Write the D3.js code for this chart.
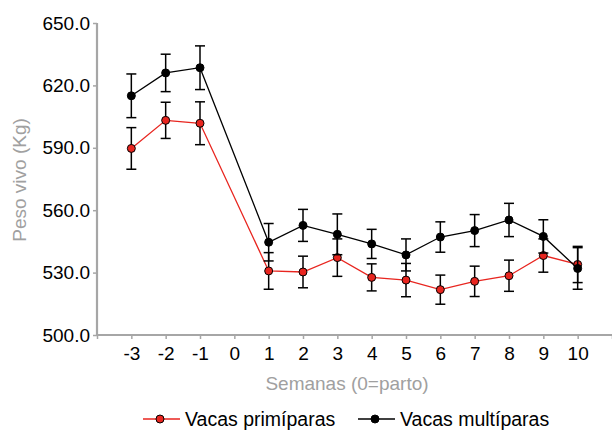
<!DOCTYPE html>
<html>
<head>
<meta charset="utf-8">
<script src="https://cdn.jsdelivr.net/npm/d3@7"></script>
<style>
  body { margin: 0; background: #fff; }
  svg { display: block; }
  .tick text { font-family: "Liberation Sans", Arial, sans-serif; }
</style>
</head>
<body>
<div id="chart"></div>
<script>
// weeks relative to calving (0 = parto, no measurement)
const weeks = [-3, -2, -1, 1, 2, 3, 4, 5, 6, 7, 8, 9, 10];
const primiparas = [589.7, 603.2, 601.8, 530.8, 530.3, 537.2, 527.7, 526.4, 521.8, 525.8, 528.5, 538.2, 533.9];
const primiparasErr = [10, 8.7, 10.3, 8.8, 7.6, 9, 6.5, 8, 7, 7.3, 7.5, 8, 8.7];
const multiparas = [615, 626, 628.5, 544.6, 552.7, 548.4, 543.8, 538.5, 547.1, 550.2, 555.3, 547.4, 532];
const multiparasErr = [10.5, 9, 10.5, 9, 7.7, 9.8, 7, 7.7, 7.3, 7.7, 8, 8, 10];
const xTicks = [-4, -3, -2, -1, 0, 1, 2, 3, 4, 5, 6, 7, 8, 9, 10, 11];
const yTicks = [500, 530, 560, 590, 620, 650];

const width = 612;
const height = 431;
const axisColor = '#a6a6a6';
const font = '"Liberation Sans", Arial, sans-serif';

const svg = d3.select('#chart')
  .append('svg')
  .attr('width', width)
  .attr('height', height);

const xScale = d3.scaleLinear().domain([-4, 11]).range([97, 612]);
const yScale = d3.scaleLinear().domain([500, 650]).range([335, 23]);

// y axis
const yAxis = svg.append('g')
  .attr('transform', 'translate(97,0)')
  .call(d3.axisLeft(yScale).tickValues(yTicks).tickFormat(d3.format('.1f')).tickSize(4).tickPadding(3));
yAxis.select('.domain').attr('stroke', axisColor).attr('stroke-width', 2.2).attr('d', 'M0,23V335');
yAxis.selectAll('.tick line').attr('stroke', axisColor).attr('stroke-width', 1.5);
yAxis.selectAll('.tick text').attr('font-size', 19).attr('fill', '#000');

// x axis
const xAxis = svg.append('g')
  .attr('transform', 'translate(0,335)')
  .call(d3.axisBottom(xScale).tickValues(xTicks).tickSize(4).tickPadding(8)
    .tickFormat((d) => (d < -3 || d > 10 ? '' : String(d))));
xAxis.select('.domain').attr('stroke', axisColor).attr('stroke-width', 2.2).attr('d', 'M97,0H612');
xAxis.selectAll('.tick line').attr('stroke', axisColor).attr('stroke-width', 1.5);
xAxis.selectAll('.tick text').attr('font-size', 19).attr('fill', '#000');

// axis titles
svg.append('text')
  .attr('transform', 'translate(26,180) rotate(-90)')
  .attr('text-anchor', 'middle')
  .attr('font-family', font)
  .attr('font-size', 19)
  .attr('fill', '#a0a0a0')
  .text('Peso vivo (Kg)');

svg.append('text')
  .attr('x', 347)
  .attr('y', 390)
  .attr('text-anchor', 'middle')
  .attr('font-family', font)
  .attr('font-size', 19)
  .attr('fill', '#a0a0a0')
  .text('Semanas (0=parto)');

const series = [
  { name: 'Vacas primíparas', values: primiparas, err: primiparasErr, color: '#e8251f', fill: '#e8251f' },
  { name: 'Vacas multíparas', values: multiparas, err: multiparasErr, color: '#000', fill: '#000' },
];

const line = d3.line()
  .x((d) => xScale(d.week))
  .y((d) => yScale(d.value));

series.forEach((s) => {
  const pts = weeks.map((w, i) => ({ week: w, value: s.values[i], err: s.err[i] }));
  const g = svg.append('g');

  g.append('path')
    .datum(pts)
    .attr('fill', 'none')
    .attr('stroke', s.color)
    .attr('stroke-width', 1.3)
    .attr('d', line);

  const bars = g.selectAll('g.err').data(pts).join('g').attr('class', 'err').attr('stroke', '#000').attr('stroke-width', 1.5);
  bars.append('line')
    .attr('x1', (d) => xScale(d.week)).attr('x2', (d) => xScale(d.week))
    .attr('y1', (d) => yScale(d.value - d.err)).attr('y2', (d) => yScale(d.value + d.err));
  bars.append('line')
    .attr('x1', (d) => xScale(d.week) - 5).attr('x2', (d) => xScale(d.week) + 5)
    .attr('y1', (d) => yScale(d.value + d.err)).attr('y2', (d) => yScale(d.value + d.err));
  bars.append('line')
    .attr('x1', (d) => xScale(d.week) - 5).attr('x2', (d) => xScale(d.week) + 5)
    .attr('y1', (d) => yScale(d.value - d.err)).attr('y2', (d) => yScale(d.value - d.err));

  g.selectAll('circle').data(pts).join('circle')
    .attr('cx', (d) => xScale(d.week))
    .attr('cy', (d) => yScale(d.value))
    .attr('r', 4)
    .attr('fill', s.fill)
    .attr('stroke', '#000')
    .attr('stroke-width', 1);
});

// legend
const legend = svg.append('g').attr('transform', 'translate(0,419)');
const legendX = [143, 358];
series.forEach((s, i) => {
  const x0 = legendX[i];
  legend.append('line')
    .attr('x1', x0).attr('x2', x0 + 37)
    .attr('y1', 0).attr('y2', 0)
    .attr('stroke', s.color).attr('stroke-width', 1.3);
  legend.append('circle')
    .attr('cx', x0 + 17).attr('cy', 0).attr('r', 4)
    .attr('fill', s.fill).attr('stroke', '#000').attr('stroke-width', 1);
  legend.append('text')
    .attr('x', x0 + 42).attr('y', 7)
    .attr('font-family', font)
    .attr('font-size', 19.5)
    .attr('fill', '#000')
    .text(s.name);
});
</script>
</body>
</html>
